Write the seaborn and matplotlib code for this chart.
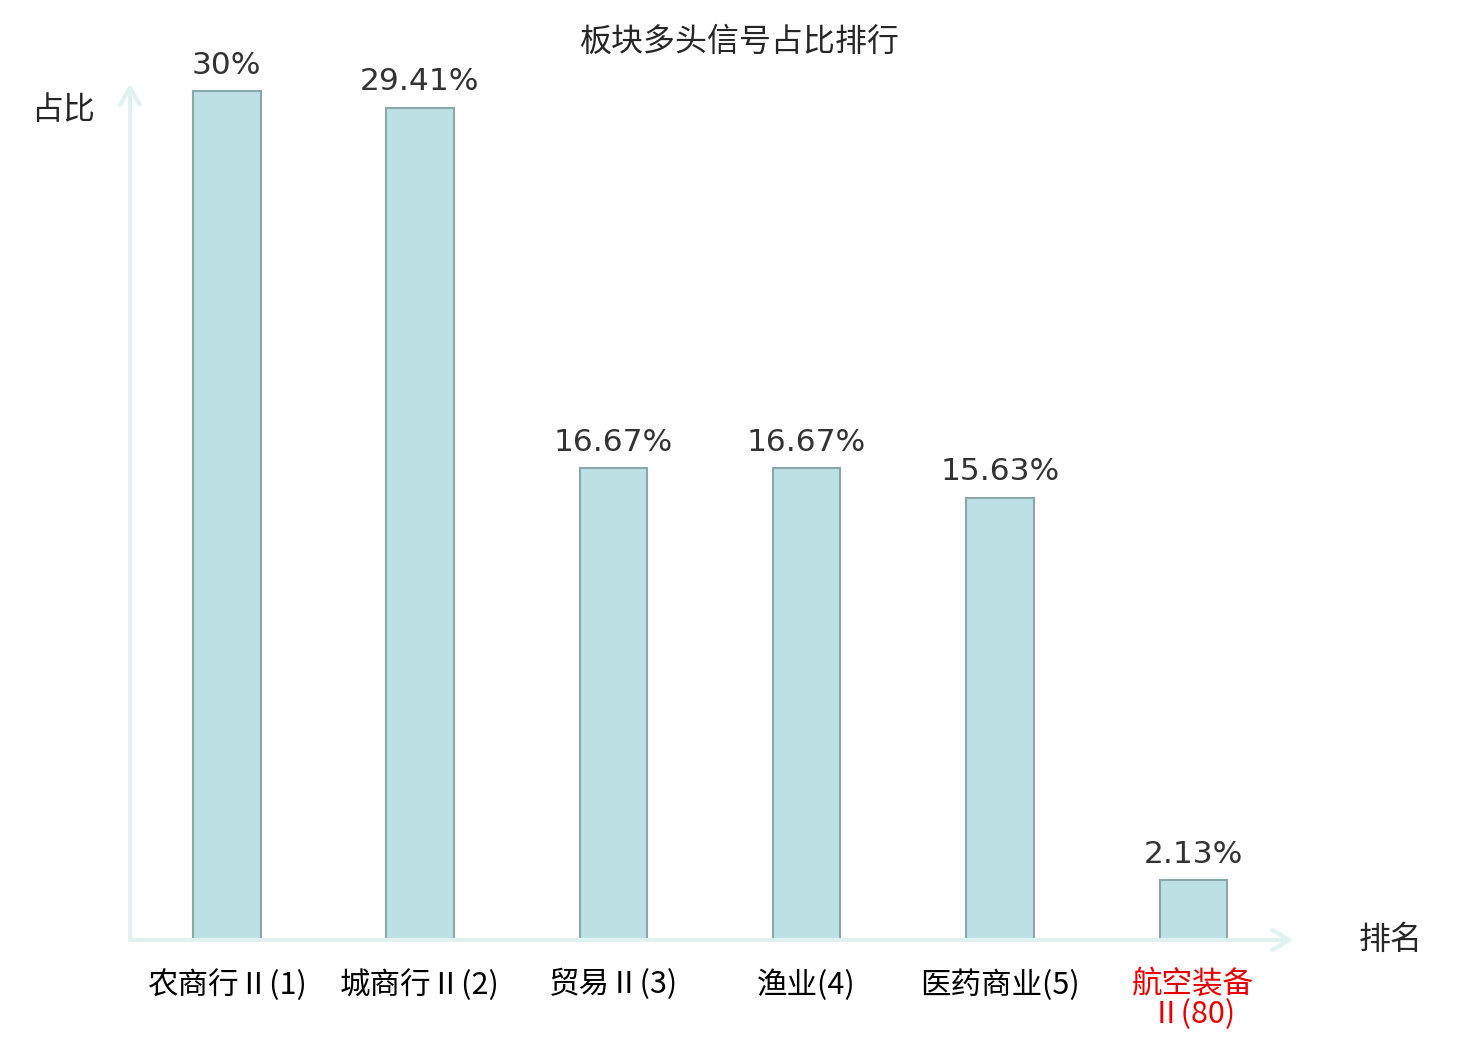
import numpy as np
import pandas as pd
import seaborn as sns
import matplotlib.pyplot as plt

sectors = ["农商行Ⅱ(1)", "城商行Ⅱ(2)", "贸易Ⅱ(3)", "渔业(4)", "医药商业(5)", "航空装备\nⅡ(80)"]
shares = [30, 29.41, 16.67, 16.67, 15.63, 2.13]
share_labels = ["30%", "29.41%", "16.67%", "16.67%", "15.63%", "2.13%"]

sns.set_style("white")
plt.rcParams['font.family'] = ['Noto Sans CJK SC', 'DejaVu Sans']

df = pd.DataFrame({"sector": sectors, "share": shares})

fig = plt.figure(figsize=(14.8, 10.4), dpi=100)
# axes placed in pixels: left 130, right 1290, bottom 940, top 88
ax = fig.add_axes([130 / 1480, 100 / 1040, 1160 / 1480, 852 / 1040])

sns.barplot(data=df, x="sector", y="share", ax=ax, width=0.35,
            color="#bce0e3", edgecolor="#8aa8aa", linewidth=1.5, saturation=1)

ax.set_xlim(-0.5, 5.5)
ax.set_ylim(0, 30.1)

for i, (v, lab) in enumerate(zip(shares, share_labels)):
    ax.annotate(lab, (i, v), xytext=(0, 8), textcoords="offset points",
                ha="center", va="bottom", fontsize=22.5, color="#333333",
                family="DejaVu Sans")

for s in ax.spines.values():
    s.set_visible(False)
ax.set_yticks([])
ax.tick_params(axis="x", length=0, pad=21)
ax.set_xticks(range(len(sectors)))
ax.set_xticklabels(sectors, fontsize=22, linespacing=0.95)
for i, t in enumerate(ax.get_xticklabels()):
    t.set_color("#e60000" if i == len(sectors) - 1 else "black")

axis_col = "#dff2ef"
arrow = dict(arrowstyle="->,head_length=1.2,head_width=0.7",
             color=axis_col, lw=3, shrinkA=0, shrinkB=0)
ax.annotate("", xy=(0, 1.005), xytext=(0, 0), xycoords="axes fraction",
            arrowprops=arrow, annotation_clip=False)
ax.annotate("", xy=(1.003, 0), xytext=(0, 0), xycoords="axes fraction",
            arrowprops=arrow, annotation_clip=False)

ax.set_xlabel("")
ax.set_ylabel("")
fig.text(63 / 1480, 1 - 110 / 1040, "占比", fontsize=23, ha="center", va="center")
fig.text(1391 / 1480, 1 - 940 / 1040, "排名", fontsize=23, ha="center", va="center")
fig.text(740 / 1480, 1 - 42 / 1040, "板块多头信号占比排行", fontsize=23,
         ha="center", va="center")

fig.savefig("out.png", dpi=100)
